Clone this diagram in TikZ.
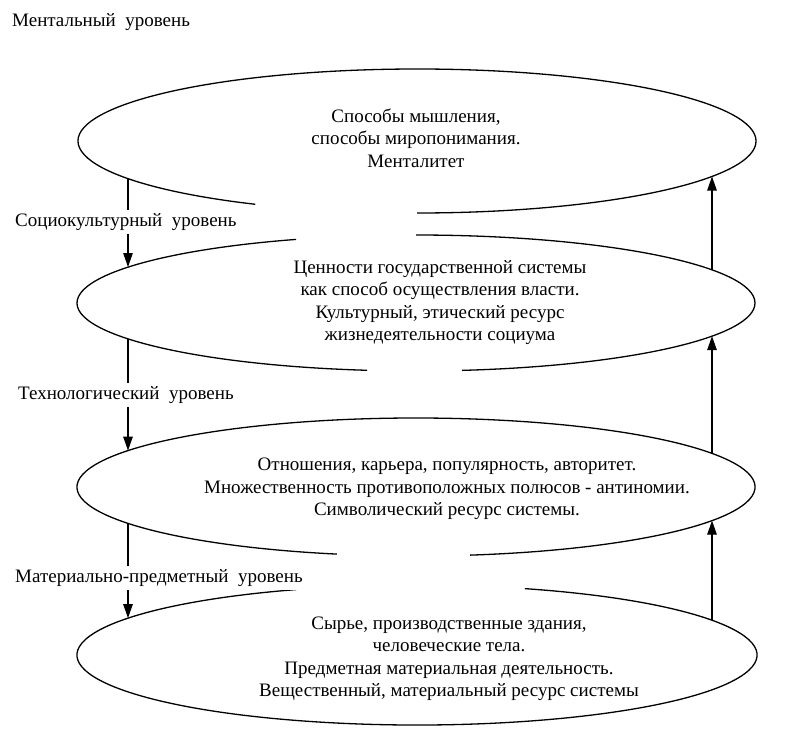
\documentclass[tikz,border=0pt]{standalone}
\usepackage{fontspec}
\setmainfont{Liberation Serif}
\usetikzlibrary{arrows.meta}
\begin{document}
\begin{tikzpicture}[x=1pt,y=-1pt,
  lbl/.style={anchor=west, fill=white, inner xsep=1pt, inner ysep=3pt, font=\fontsize{19}{22}\selectfont},
  txt/.style={align=center, font=\fontsize{19}{22.5}\selectfont, inner sep=0pt},
  ell/.style={line width=1.3pt},
  conn/.style={line width=1.1pt, -{Triangle[length=14pt,width=9.5pt]}}]
\useasboundingbox (0,0) rectangle (800,748);
\fill[white] (0,0) rectangle (800,748);

% ellipses (broken arcs)
\draw[ell] (417,141) ++(118.5:339 and 72) arc[start angle=118.5, end angle=450, x radius=339, y radius=72];
\draw[ell] (416,303) ++(98.3:339 and 68) arc[start angle=98.3, end angle=249.3, x radius=339, y radius=68];
\draw[ell] (416,303) ++(270:339 and 68) arc[start angle=270, end angle=442.2, x radius=339, y radius=68];
\draw[ell] (416,487) ++(103.5:339 and 69) arc[start angle=103.5, end angle=440.8, x radius=339, y radius=69];
\draw[ell] (417,655) ++(288.5:340 and 70) arc[start angle=288.5, end angle=609.2, x radius=340, y radius=70];

% texts inside ellipses
\node[txt] (t1) at (416,138) {Способы мышления,\\способы миропонимания.\\Менталитет};
\node[txt] (t2) at (440,302.5) {Ценности государственной системы\\как способ осуществления власти.\\Культурный, этический ресурс\\жизнедеятельности социума};
\node[txt] (t3) at (447,489) {Отношения, карьера, популярность, авторитет.\\Множественность противоположных полюсов - антиномии.\\Символический ресурс системы.};
\node[txt] (t4) at (449,658.5) {Сырье, производственные здания,\\человеческие тела.\\Предметная материальная деятельность.\\Вещественный, материальный ресурс системы};

% connector ends on the ellipses
\coordinate (d1s) at (128,178.6);
\coordinate (d1e) at (128,267);
\coordinate (d2s) at (128,338.9);
\coordinate (d2e) at (128,450.6);
\coordinate (d3s) at (128,523.4);
\coordinate (d3e) at (128,618.1);
\coordinate (u1s) at (712,269.9);
\coordinate (u1e) at (712,176.5);
\coordinate (u2s) at (712,453.4);
\coordinate (u2e) at (712,336.1);
\coordinate (u3s) at (712,620.2);
\coordinate (u3e) at (712,520.6);

\draw[conn] (d1s) -- (d1e);
\draw[conn] (d2s) -- (d2e);
\draw[conn] (d3s) -- (d3e);
\draw[conn] (u1s) -- (u1e);
\draw[conn] (u2s) -- (u2e);
\draw[conn] (u3s) -- (u3e);

% level labels
\node[lbl] (l0) at (11,22) {Ментальный\ \ уровень};
\node[lbl] (l1) at (14,222) {Социокультурный\ \ уровень};
\node[lbl] (l2) at (17,395) {Технологический\ \ уровень};
\node[lbl] (l3) at (14,578) {Материально-предметный\ \ уровень};
\end{tikzpicture}
\end{document}
